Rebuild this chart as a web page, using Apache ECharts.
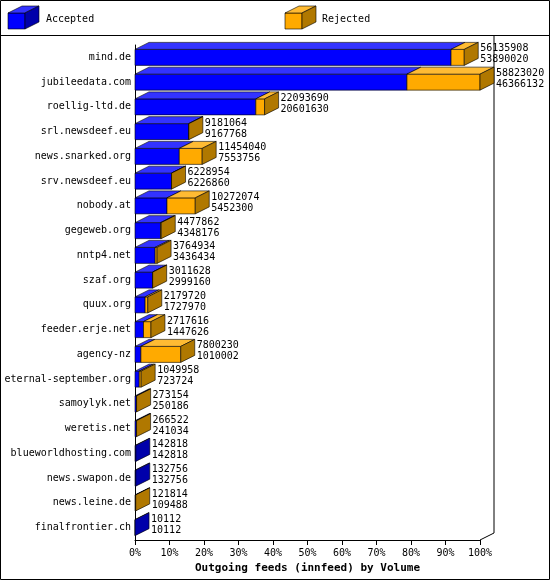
<!DOCTYPE html>
<html><head><meta charset="utf-8">
<script src="https://cdn.jsdelivr.net/npm/echarts@6/dist/echarts.min.js"></script>
<style>html,body{margin:0;padding:0;background:#fff}#c{width:550px;height:580px}</style>
</head><body><div id="c"></div>
<script>
var feeds = ['mind.de','jubileedata.com','roellig-ltd.de','srl.newsdeef.eu','news.snarked.org','srv.newsdeef.eu','nobody.at','gegeweb.org','nntp4.net','szaf.org','quux.org','feeder.erje.net','agency-nz','eternal-september.org','samoylyk.net','weretis.net','blueworldhosting.com','news.swapon.de','news.leine.de','finalfrontier.ch'];
var offered = [56135908,58823020,22093690,9181064,11454040,6228954,10272074,4477862,3764934,3011628,2179720,2717616,7800230,1049958,273154,266522,142818,132756,121814,10112];
var accepted = [53890020,46366132,20601630,9167768,7553756,6226860,5452300,4348176,3436434,2999160,1727970,1447626,1010002,723724,250186,241034,142818,132756,109488,10112];
var maxVol = Math.max.apply(null, offered);

var data = feeds.map(function (f, i) {
  return [i, accepted[i] / maxVol * 100, offered[i] / maxVol * 100, offered[i], accepted[i]];
});

var DX = 14, DY = 7, H = 16;
function box(x0, x1, y, front, top, side, withSide) {
  var els = [];
  els.push({type: 'rect', shape: {x: x0, y: y - H / 2, width: Math.max(x1 - x0, 0), height: H},
    style: {fill: front, stroke: '#000', lineWidth: 0.6}});
  els.push({type: 'polygon', shape: {points: [[x0, y - H / 2], [x0 + DX, y - H / 2 - DY], [x1 + DX, y - H / 2 - DY], [x1, y - H / 2]]},
    style: {fill: top, stroke: '#000', lineWidth: 0.6}});
  if (withSide) els.push({type: 'polygon', shape: {points: [[x1, y - H / 2], [x1 + DX, y - H / 2 - DY], [x1 + DX, y + H / 2 - DY], [x1, y + H / 2]]},
    style: {fill: side, stroke: '#000', lineWidth: 0.6}});
  return els;
}

var chart = echarts.init(document.getElementById('c'));
chart.setOption({
  animation: false,
  grid: {left: 135, right: 70, top: 45, bottom: 40, containLabel: false, outerBoundsMode: 'none'},
  xAxis: {type: 'value', min: 0, max: 100, interval: 10,
    axisLabel: {formatter: '{value}%', color: '#000', fontFamily: 'DejaVu Sans Mono', fontSize: 10},
    axisLine: {show: true, lineStyle: {color: '#000'}}, axisTick: {show: true, lineStyle: {color: '#000'}},
    splitLine: {show: false},
    name: 'Outgoing feeds (innfeed) by Volume', nameLocation: 'middle', nameGap: 22,
    nameTextStyle: {color: '#000', fontWeight: 'bold', fontFamily: 'DejaVu Sans Mono', fontSize: 11}},
  yAxis: {type: 'category', data: feeds, inverse: true,
    axisLabel: {color: '#000', fontFamily: 'DejaVu Sans Mono', fontSize: 10, margin: 4},
    axisLine: {lineStyle: {color: '#000'}}, axisTick: {show: false}},
  graphic: [
    {type: 'rect', shape: {x: 0.5, y: 0.5, width: 549, height: 579}, style: {fill: 'none', stroke: '#000'}},
    {type: 'line', shape: {x1: 0, y1: 35.5, x2: 550, y2: 35.5}, style: {stroke: '#000'}},
    {type: 'line', shape: {x1: 480, y1: 540, x2: 494, y2: 533}, style: {stroke: '#000'}},
    {type: 'line', shape: {x1: 494, y1: 533, x2: 494, y2: 36}, style: {stroke: '#000'}},
    {type: 'group', children: box(8, 25, 21, '#0000ff', '#3333ff', '#0000aa', true)},
    {type: 'text', left: 46, top: 14, style: {text: 'Accepted', font: '10px DejaVu Sans Mono', fill: '#000'}},
    {type: 'group', children: box(285, 302, 21, '#ffaa00', '#ffbb33', '#b07800', true)},
    {type: 'text', left: 322, top: 14, style: {text: 'Rejected', font: '10px DejaVu Sans Mono', fill: '#000'}}
  ],
  series: [{
    type: 'custom',
    data: data,
    encode: {x: [1, 2], y: 0},
    renderItem: function (params, api) {
      var y = api.coord([0, api.value(0)])[1];
      var x0 = api.coord([0, api.value(0)])[0];
      var x1 = api.coord([api.value(1), api.value(0)])[0];
      var x2 = api.coord([api.value(2), api.value(0)])[0];
      var rej = api.value(3) > api.value(4);
      var els = box(x0, x1, y, '#0000ff', '#3333ff', '#0000aa', !rej);
      if (rej) els = els.concat(box(x1, x2, y, '#ffaa00', '#ffbb33', '#b07800', true));
      els.push({type: 'text', style: {text: api.value(3) + '\n' + api.value(4), x: x2 + DX + 2, y: y - H / 2 - DY + 1,
        font: '10px DejaVu Sans Mono', fill: '#000', lineHeight: 11}});
      return {type: 'group', children: els};
    }
  }]
});
</script></body></html>
